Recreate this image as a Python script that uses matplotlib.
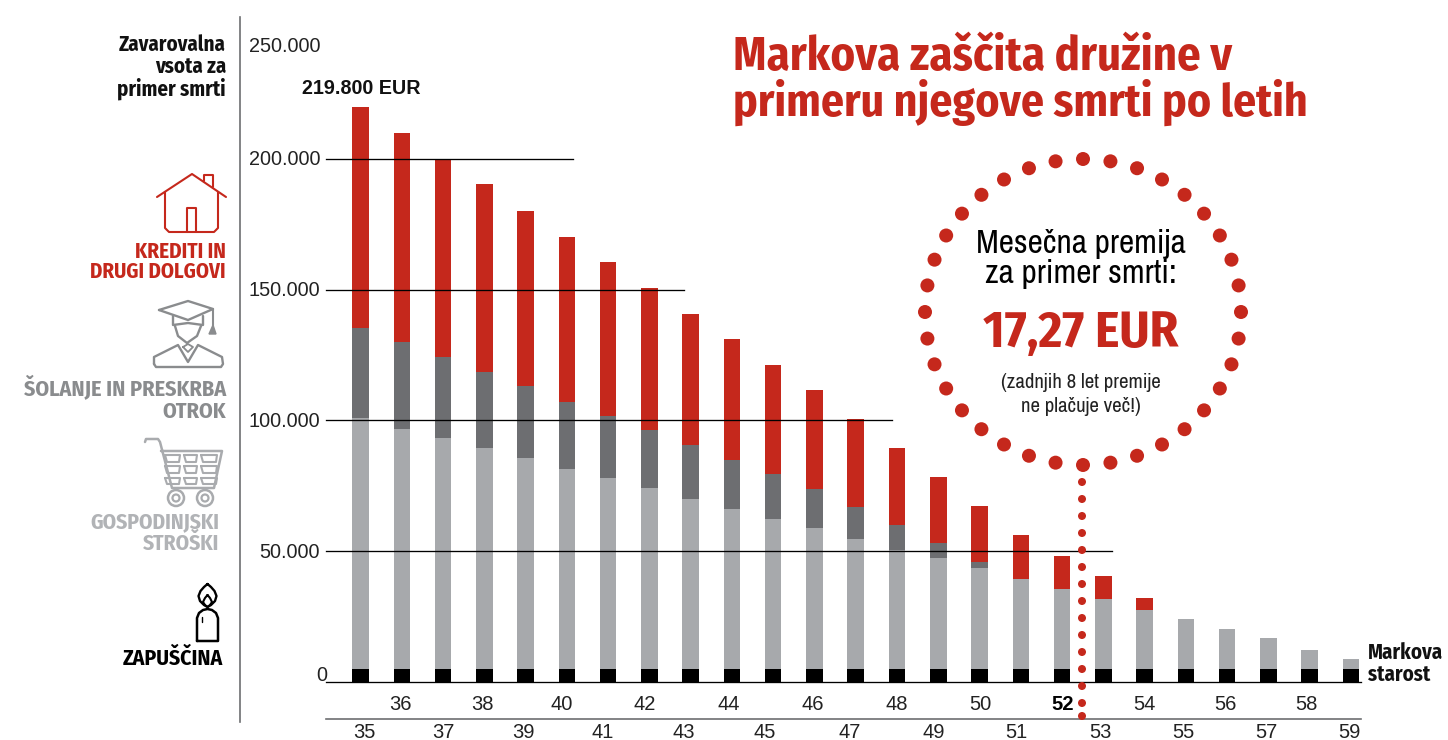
import matplotlib
matplotlib.use("Agg")
import matplotlib.pyplot as plt
from matplotlib.patches import Circle, Polygon
import numpy as np

# chart data, in EUR
ages = list(range(35, 60))
legacy = [5000] * 25
household = [95900, 91700, 88100, 84400, 80600, 76400, 73000, 69200, 65000, 61100,
             57300, 53900, 49700, 45500, 42400, 38600, 34400, 30600, 26700, 22500,
             19100, 15300, 11800, 7200, 3800]
education = [34400, 33300, 31100, 29100, 27500, 25800, 23700, 22100, 20600, 18800,
             17200, 14900, 12200, 9500, 5700, 2300, 0, 0, 0, 0,
             0, 0, 0, 0, 0]
loans = [84500, 79900, 75300, 71900, 66900, 62900, 58900, 54300, 50100, 46200,
         41700, 37800, 33600, 29400, 25300, 21400, 16800, 12600, 8800, 4600,
         0, 0, 0, 0, 0]
y_ticks = [0, 50000, 100000, 150000, 200000, 250000]
y_tick_labels = ["0", "50.000", "100.000", "150.000", "200.000", "250.000"]

RED = "#c5281c"
DARK = "#6d6e71"
LIGHT = "#a7a9ac"
W, H = 1448, 740
COND = ["Fira Sans Condensed", "Liberation Sans"]
NARROW = ["Archivo Narrow", "Liberation Sans"]
PLAIN = ["Liberation Sans"]

# pixel position of age 35, pixels per year, the 0 line and pixels per EUR
X35, DX, Y0, PX_PER_EUR = 360.5, 41.27, 682.0, 2.616 / 1000


def px_to_age(px):
    return 35 + (px - X35) / DX


def stroke(ax, pts, color, lw=1.5, closed=False):
    pts = list(pts)
    if closed:
        pts = pts + [pts[0]]
    xs, ys = zip(*pts)
    ax.plot(xs, ys, color=color, lw=lw, solid_joinstyle="round", solid_capstyle="round")


def draw_house(ax):
    stroke(ax, [(157, 197), (192, 174), (226, 197)], RED)
    stroke(ax, [(165, 192), (165, 228), (169, 232), (214, 232), (218, 228), (218, 192)], RED)
    stroke(ax, [(204, 181), (204, 175), (213, 175), (213, 187)], RED)
    stroke(ax, [(187, 232), (187, 208), (196, 208), (196, 232)], RED)


def draw_graduate(ax):
    c = "#8a8c8e"
    stroke(ax, [(159, 310), (188, 301), (213, 309), (188, 320)], c, lw=1.7, closed=True)
    stroke(ax, [(173, 316), (173, 325), (188, 323), (203, 325), (203, 316)], c, lw=1.7)
    stroke(ax, [(175, 326), (178, 336), (187, 343), (197, 336), (201, 326)], c, lw=1.7)
    stroke(ax, [(213, 309), (213, 326)], c)
    ax.add_patch(Polygon([(209, 334), (216, 334), (213, 325)], color=c))
    stroke(ax, [(154, 364), (154, 357), (178, 345), (188, 362), (198, 345), (222, 357),
                (223, 364), (221, 367), (156, 367)], c, lw=1.7, closed=True)
    stroke(ax, [(183, 347), (188, 344), (193, 347), (188, 352)], c, lw=1.3, closed=True)


def draw_cart(ax):
    c = "#a9abae"
    stroke(ax, [(145, 442), (146, 439), (158, 439), (160, 442), (172, 488), (214, 488),
                (222, 451), (161, 451)], c, lw=1.8)
    for y0, y1 in [(455, 462), (466, 473), (478, 484)]:
        for x0, x1 in [(165, 180), (184, 197), (201, 217)]:
            stroke(ax, [(x0, y0), (x1, y0), (x1 - 1, y1), (x0 + 2, y1)], c, lw=1.5, closed=True)
    for cx in [176, 205]:
        ax.add_patch(Circle((cx, 498), 8, fill=False, ec=c, lw=1.8))
        ax.add_patch(Circle((cx, 498), 3.5, fill=False, ec=c, lw=1.6))


def draw_candle(ax):
    stroke(ax, [(207.5, 584), (211, 587), (214.5, 591), (216.5, 596), (215, 601), (211, 605),
                (207.5, 607), (204, 605), (200, 601), (198.5, 596), (200.5, 591), (204, 587)],
           "black", lw=1.7, closed=True)
    stroke(ax, [(207.5, 595), (210, 598), (212, 602), (210, 605), (207.5, 607),
                (205, 605), (203, 602), (205, 598)], "black", lw=1.5, closed=True)
    stroke(ax, [(197, 641), (197, 618), (199, 613), (203, 610), (207.5, 609), (212, 610),
                (216, 613), (218, 618), (218, 641)], "black", lw=1.8, closed=True)
    stroke(ax, [(202, 617), (202, 622)], "black", lw=1)


fig = plt.figure(figsize=(W / 100, H / 100), dpi=100)

# stacked bars on real scales
ax = fig.add_axes([0, 0, 1, 1])
ax.set_xlim(px_to_age(0), px_to_age(W))
ax.set_ylim(-(H - Y0) / PX_PER_EUR, Y0 / PX_PER_EUR)
ax.axis("off")

x = np.array(ages)
base = np.zeros(len(ages))
for values, color in [(legacy, "black"), (household, LIGHT), (education, DARK), (loans, RED)]:
    ax.bar(x, values, width=0.4, bottom=base, color=color, linewidth=0, zorder=2)
    base = base + np.array(values)

# gridlines stop at different ages, on top of the bars
for val, end_px in [(0, 1361), (50000, 1112), (100000, 892), (150000, 684), (200000, 573)]:
    ax.plot([px_to_age(326), px_to_age(end_px)], [val, val], color="black", lw=0.95, zorder=3)

# everything else in pixel coordinates
ov = fig.add_axes([0, 0, 1, 1])
ov.set_xlim(0, W)
ov.set_ylim(H, 0)
ov.axis("off")
ov.patch.set_alpha(0)

ov.plot([240, 240], [17, 722], color="#6d6e71", lw=1.2)
ov.plot([326, 1361], [718.5, 718.5], color="#6d6e71", lw=1.2)

# y tick labels
for val, lab in zip(y_ticks, y_tick_labels):
    py = Y0 - val * PX_PER_EUR
    if val == 0:
        ov.text(327, 675.5, lab, ha="right", va="center", family=PLAIN, fontsize=14.3, color="#222222")
    elif val == 250000:
        ov.text(320, 46, lab, ha="right", va="center", family=PLAIN, fontsize=14.3, color="#222222")
    else:
        ov.text(320, py + 1, lab, ha="right", va="center", family=PLAIN, fontsize=14.3, color="#222222")

# age labels sit a bit off the bars, two rows
odd_px = [364, 443, 523, 603, 684, 765, 850, 934, 1016, 1100, 1183, 1266, 1349]
even_px = [400, 482, 562, 645, 729, 813, 897, 980, 1063, 1144, 1225, 1306]
for age, px in zip(ages[0::2], odd_px):
    ov.text(px, 733, str(age), ha="center", va="center", family=PLAIN, fontsize=14.5, color="#222222")
for age, px in zip(ages[1::2], even_px):
    ov.text(px, 704, str(age), ha="center", va="center", family=PLAIN, fontsize=14.5,
            color="black" if age == 52 else "#222222",
            fontweight="bold" if age == 52 else "normal")

# left column labels
for txt, y, color, xr, size in [
    ("Zavarovalna", 45, "#111111", 226, 15), ("vsota za", 67, "#111111", 226, 15),
    ("primer smrti", 89, "#111111", 226, 15),
    ("KREDITI IN", 252, RED, 226, 15.2), ("DRUGI DOLGOVI", 272, RED, 226, 15),
    ("ŠOLANJE IN PRESKRBA", 387, "#8a8c8e", 226, 15.9), ("OTROK", 412, "#8a8c8e", 226, 15.9),
    ("GOSPODINJSKI", 522, "#b1b3b6", 219, 15.5), ("STROŠKI", 544, "#b1b3b6", 219, 15.5),
    ("ZAPUŠČINA", 659, "black", 223, 15.6),
]:
    ov.text(xr, y, txt, ha="right", va="center", family=COND, fontweight="bold", fontsize=size, color=color)

draw_house(ov)
draw_graduate(ov)
draw_cart(ov)
draw_candle(ov)

ov.text(302, 88.5, "219.800 EUR", ha="left", va="center", family=PLAIN, fontweight="bold", fontsize=14.2, color="#111111")
ov.text(1368, 652.5, "Markova", ha="left", va="center", family=COND, fontweight="bold", fontsize=15, color="#111111")
ov.text(1368, 674.5, "starost", ha="left", va="center", family=COND, fontweight="bold", fontsize=15, color="#111111")

# title
ov.text(733, 70, "Markova zaščita družine v", ha="left", va="baseline", family=COND, fontweight="bold", fontsize=33.5, color=RED)
ov.text(733, 116, "primeru njegove smrti po letih", ha="left", va="baseline", family=COND, fontweight="bold", fontsize=32.8, color=RED)

# dotted callout
for deg in range(0, 360, 10):
    a = np.deg2rad(deg)
    ov.add_patch(Circle((1083 + 158 * np.sin(a), 312 - 153 * np.cos(a)), 7, color=RED, lw=0, zorder=4))
for py in range(482, 717, 17):
    ov.add_patch(Circle((1082, py), 4, color=RED, lw=0, zorder=4))
ov.add_patch(Circle((1082, 716), 4, color=RED, lw=0, zorder=4))

ov.text(1080.5, 244, "Mesečna premija", ha="center", va="center", family=NARROW, fontsize=24, color="black")
ov.text(1080.5, 274, "za primer smrti:", ha="center", va="center", family=NARROW, fontsize=24, color="black")
ov.text(1081, 334, "17,27 EUR", ha="center", va="center", family=COND, fontweight="bold", fontsize=37, color=RED)
ov.text(1080.5, 383, "(zadnjih 8 let premije", ha="center", va="center", family=NARROW, fontsize=15, color="#222222")
ov.text(1080.5, 407, "ne plačuje več!)", ha="center", va="center", family=NARROW, fontsize=15, color="#222222")

fig.savefig("out.png", dpi=100)
